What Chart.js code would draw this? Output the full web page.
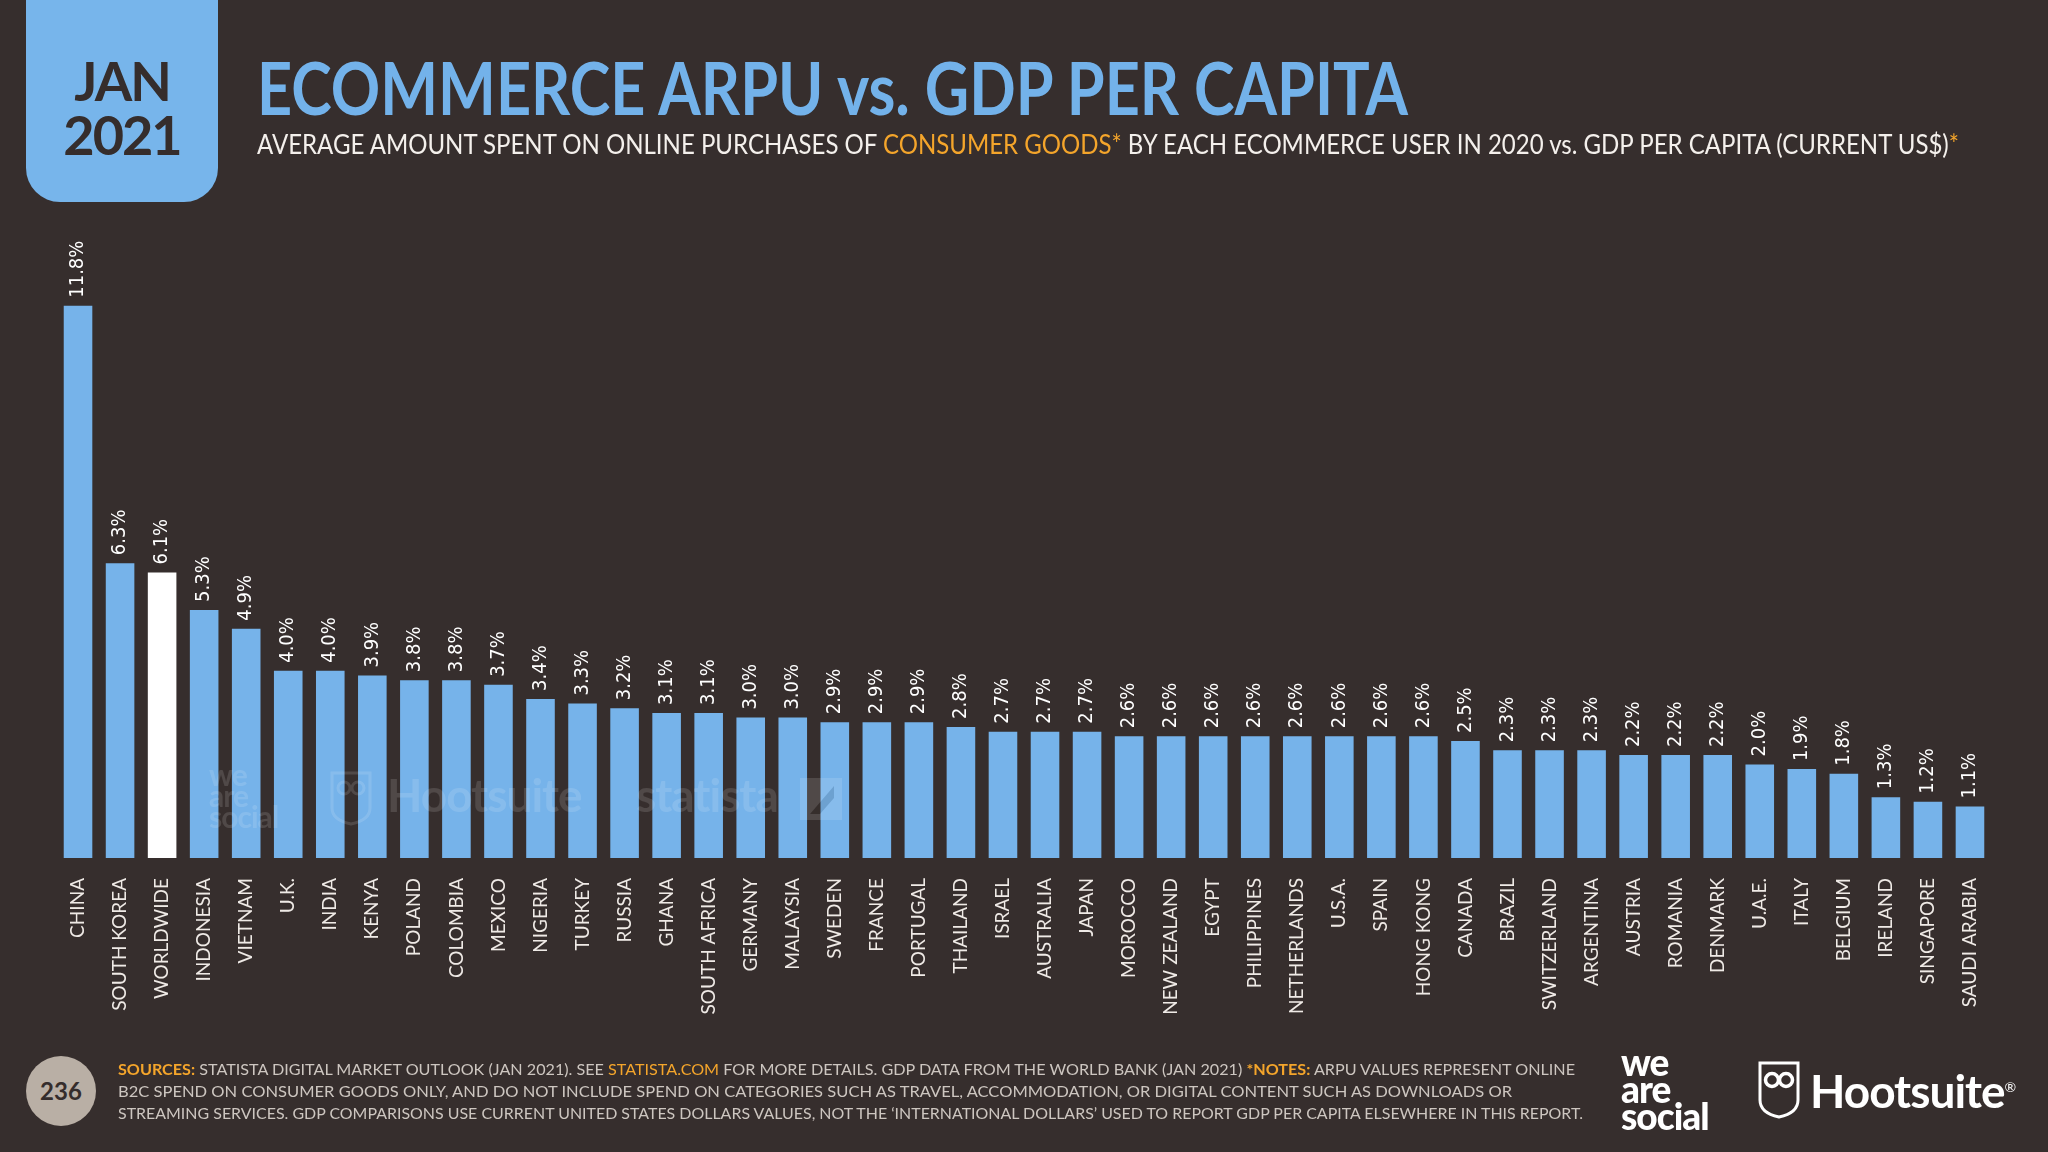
<!DOCTYPE html>
<html>
<head>
<meta charset="utf-8">
<script src="https://cdn.jsdelivr.net/npm/chart.js@4.4.1/dist/chart.umd.min.js"></script>
<style>
  html, body { margin: 0; padding: 0; }
  body { width: 2048px; height: 1152px; background: #362e2d; position: relative; overflow: hidden; font-family: Lato, sans-serif; }
  .abs { position: absolute; white-space: nowrap; transform-origin: 0 0; }
  #dateBox { position: absolute; left: 26px; top: 0; width: 192px; height: 202px; background: #77b5eb; border-radius: 0 0 34px 34px; }
  .date { position: absolute; left: 0; width: 192px; text-align: center; font: 700 54px/54px Lato, sans-serif; color: #352d2c; letter-spacing: -2px; }
  #title { left: 257px; top: 51px; font: 700 72px/72px Lato, sans-serif; color: #73b2ea; }
  #subtitle { left: 257px; top: 130px; font: 400 27px/27px Lato, sans-serif; color: #f4f0ec; }
  .orange { color: #f4a52b; }
  .foot { left: 118px; font: 400 16px/16px Lato, sans-serif; color: #cdc6c0; }
  #page { position: absolute; left: 26px; top: 1056px; width: 70px; height: 70px; border-radius: 50%; background: #b9afa5; color: #352d2c; font: 700 24px/70px Lato, sans-serif; text-align: center; }
  #was { left: 1621px; top: 1048px; font: 900 37px/27px Lato, sans-serif; color: #fff; letter-spacing: -1px; }
  #hoot { left: 1810px; top: 1064px; font: 700 46px/46px Lato, sans-serif; color: #fff; letter-spacing: -1px; }
  .wm { color: rgba(255,255,255,0.13); font-weight: 700; letter-spacing: -1px; }
  #chartBox { position: absolute; left: 0; top: 0; width: 2048px; height: 1152px; }
</style>
</head>
<body>
<div id="chartBox"><canvas id="arpu-chart"></canvas></div>

<div id="dateBox">
  <div class="date" style="top:54px">JAN</div>
  <div class="date" style="top:108px">2021</div>
</div>
<div id="title" class="abs" data-w="1151">ECOMMERCE ARPU vs. GDP PER CAPITA</div>
<div id="subtitle" class="abs" data-w="1702">AVERAGE AMOUNT SPENT ON ONLINE PURCHASES OF <span class="orange">CONSUMER GOODS*</span> BY EACH ECOMMERCE USER IN 2020 vs. GDP PER CAPITA (CURRENT US$)<span class="orange">*</span></div>

<div class="abs wm" style="left:209px; top:764px; font-size:30px; line-height:21px;">we<br>are<br>social</div>
<svg class="abs" style="left:329px; top:770px; opacity:0.13" width="44" height="56" viewBox="0 0 44 56">
  <path d="M3 3 H41 V38 Q41 50 22 54 Q3 50 3 38 Z" fill="none" stroke="#fff" stroke-width="3"/>
  <circle cx="15" cy="18" r="6" fill="none" stroke="#fff" stroke-width="3"/>
  <circle cx="29" cy="18" r="6" fill="none" stroke="#fff" stroke-width="3"/>
</svg>
<div class="abs wm" style="left:387px; top:772px; font-size:46px; line-height:46px;">Hootsuite</div>
<div class="abs wm" style="left:636px; top:772px; font-size:46px; line-height:46px;">statista</div>
<svg class="abs" style="left:800px; top:778px; opacity:0.13" width="42" height="42" viewBox="0 0 42 42">
  <rect x="0" y="0" width="42" height="42" fill="#fff"/>
  <path d="M10 36 L34 8 L34 20 L20 36 Z" fill="#362e2d"/>
</svg>

<div id="page">236</div>
<div class="abs foot" style="top:1061px" data-w="1457"><span class="orange" style="font-weight:700">SOURCES:</span> STATISTA DIGITAL MARKET OUTLOOK (JAN 2021). SEE <span class="orange">STATISTA.COM</span> FOR MORE DETAILS. GDP DATA FROM THE WORLD BANK (JAN 2021) <span class="orange" style="font-weight:700">*NOTES:</span> ARPU VALUES REPRESENT ONLINE</div>
<div class="abs foot" style="top:1083px" data-w="1394">B2C SPEND ON CONSUMER GOODS ONLY, AND DO NOT INCLUDE SPEND ON CATEGORIES SUCH AS TRAVEL, ACCOMMODATION, OR DIGITAL CONTENT SUCH AS DOWNLOADS OR</div>
<div class="abs foot" style="top:1105px" data-w="1465">STREAMING SERVICES. GDP COMPARISONS USE CURRENT UNITED STATES DOLLARS VALUES, NOT THE ‘INTERNATIONAL DOLLARS’ USED TO REPORT GDP PER CAPITA ELSEWHERE IN THIS REPORT.</div>

<div id="was" class="abs">we<br>are<br>social</div>
<svg class="abs" style="left:1757px; top:1060px" width="44" height="60" viewBox="0 0 44 60">
  <path d="M3 3 H41 V40 Q41 53 22 57 Q3 53 3 40 Z" fill="none" stroke="#fff" stroke-width="3"/>
  <circle cx="15" cy="20" r="6.5" fill="none" stroke="#fff" stroke-width="3.5"/>
  <circle cx="29" cy="20" r="6.5" fill="none" stroke="#fff" stroke-width="3.5"/>
</svg>
<div id="hoot" class="abs">Hootsuite<sup style="font-size:14px; font-weight:400">®</sup></div>

<script>
const countries = ['CHINA', 'SOUTH KOREA', 'WORLDWIDE', 'INDONESIA', 'VIETNAM', 'U.K.', 'INDIA', 'KENYA',
    'POLAND', 'COLOMBIA', 'MEXICO', 'NIGERIA', 'TURKEY', 'RUSSIA', 'GHANA', 'SOUTH AFRICA', 'GERMANY',
    'MALAYSIA', 'SWEDEN', 'FRANCE', 'PORTUGAL', 'THAILAND', 'ISRAEL', 'AUSTRALIA', 'JAPAN', 'MOROCCO',
    'NEW ZEALAND', 'EGYPT', 'PHILIPPINES', 'NETHERLANDS', 'U.S.A.', 'SPAIN', 'HONG KONG', 'CANADA',
    'BRAZIL', 'SWITZERLAND', 'ARGENTINA', 'AUSTRIA', 'ROMANIA', 'DENMARK', 'U.A.E.', 'ITALY', 'BELGIUM',
    'IRELAND', 'SINGAPORE', 'SAUDI ARABIA'];
const arpu_vs_gdp = [11.8, 6.3, 6.1, 5.3, 4.9, 4.0, 4.0, 3.9, 3.8, 3.8, 3.7, 3.4, 3.3, 3.2, 3.1, 3.1, 3.0,
    3.0, 2.9, 2.9, 2.9, 2.8, 2.7, 2.7, 2.7, 2.6, 2.6, 2.6, 2.6, 2.6, 2.6, 2.6, 2.6, 2.5, 2.3, 2.3, 2.3,
    2.2, 2.2, 2.2, 2.0, 1.9, 1.8, 1.3, 1.2, 1.1];
const highlighted = 'WORLDWIDE';

// squeeze header / footer lines to the widths in the original
document.querySelectorAll('[data-w]').forEach(el => {
    const w = el.getBoundingClientRect().width;
    el.style.transform = 'scaleX(' + (el.dataset.w / w) + ')';
});

const valueLabels = {
    id: 'valueLabels',
    afterDatasetsDraw(chart) {
        const ctx = chart.ctx;
        const meta = chart.getDatasetMeta(0);
        ctx.save();
        ctx.fillStyle = '#ffffff';
        ctx.font = '20px "DejaVu Sans Condensed", "DejaVu Sans", sans-serif';
        ctx.textAlign = 'left';
        ctx.textBaseline = 'middle';
        meta.data.forEach((bar, i) => {
            ctx.save();
            ctx.translate(bar.x, bar.y - 8);
            ctx.rotate(-Math.PI / 2);
            ctx.fillText(arpu_vs_gdp[i].toFixed(1) + '%', 0, 0);
            ctx.restore();
        });
        ctx.restore();
    }
};

const arpu_chart = new Chart(
    document.getElementById('arpu-chart').getContext('2d'), {
    type: 'bar',
    data: {
        labels: countries,
        datasets: [{
            label: 'Ecommerce ARPU vs GDP per capita',
            data: arpu_vs_gdp,
            backgroundColor: countries.map(c => c === highlighted ? '#ffffff' : '#76b3ea'),
            barPercentage: 0.68,
            categoryPercentage: 1.0,
        }]
    },
    options: {
        responsive: true,
        maintainAspectRatio: false,
        animation: false,
        layout: { padding: { left: 57, right: 57, top: 273, bottom: 0 } },
        plugins: {
            legend: { display: false },
            tooltip: { enabled: false }
        },
        scales: {
            y: { display: false, min: 0, max: 12.5 },
            x: {
                grid: { display: false },
                border: { display: false },
                afterFit(scale) { scale.height = 294; },
                ticks: {
                    autoSkip: false,
                    minRotation: 90,
                    maxRotation: 90,
                    padding: 12,
                    color: '#efeae6',
                    font: { family: 'Lato', size: 19 }
                }
            }
        }
    },
    plugins: [valueLabels]
});
</script>
</body>
</html>
